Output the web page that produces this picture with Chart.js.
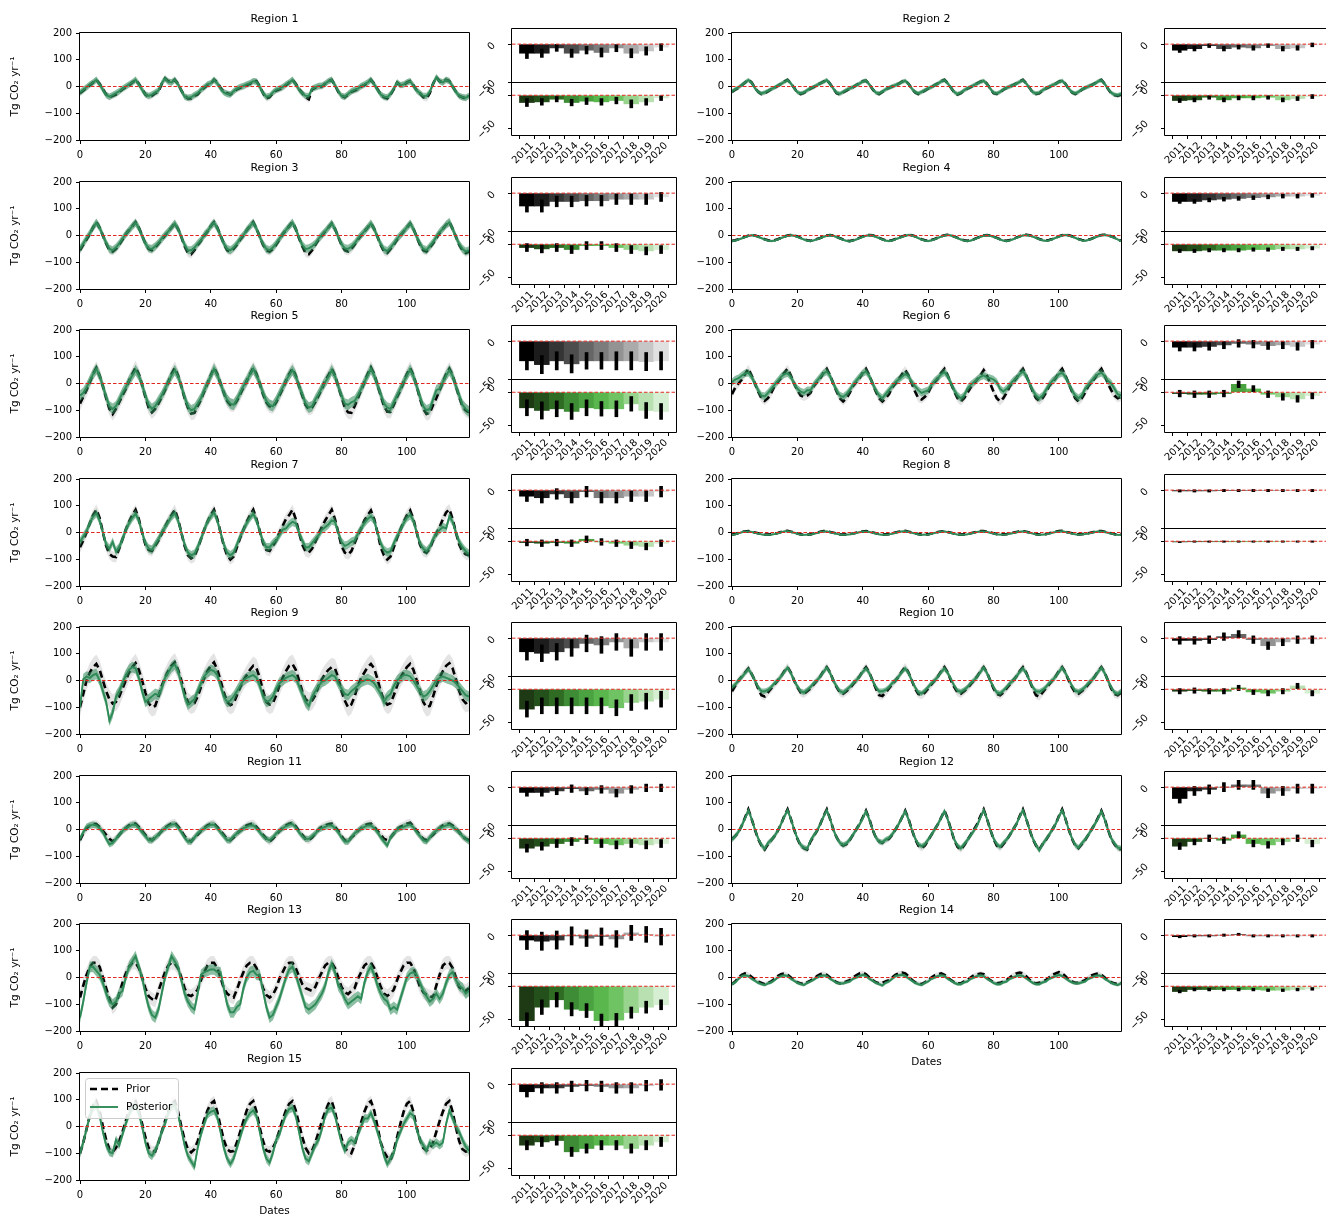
<!DOCTYPE html>
<html><head><meta charset="utf-8">
<script src="https://cdn.jsdelivr.net/npm/chart.js@4.4.1/dist/chart.umd.min.js"></script>
<style>
html,body{margin:0;padding:0;background:#fff;overflow:hidden;width:1326px;height:1219px;position:relative;}
canvas{position:absolute;}
</style></head><body>
<script>
// ---------------- DATA ----------------
const years = [2011,2012,2013,2014,2015,2016,2017,2018,2019,2020];
const xTickVals = [0,20,40,60,80,100];
const yTickVals = [-200,-100,0,100,200];
const regionNames = ['Region 1','Region 2','Region 3','Region 4','Region 5','Region 6','Region 7','Region 8','Region 9','Region 10','Region 11','Region 12','Region 13','Region 14','Region 15'];

const priorR1 = [-25,-15,-5,5,15,25,10,-10,-30,-40,-35,-30, -20,-10,-3,5,15,25,10,-10,-30,-38,-35,-25, -20,10,30,20,15,25,10,-15,-35,-45,-45,-35, -30,-15,-5,5,10,25,15,-5,-20,-25,-30,-20, -10,-5,0,5,10,20,20,0,-25,-45,-40,-25, -15,-10,-5,5,15,25,10,-10,-25,-40,-48,-10, -5,0,0,10,20,25,5,-20,-35,-40,-30,-20, -15,-10,0,5,15,25,10,-10,-30,-40,-45,-30, -10,15,5,5,15,20,5,-15,-25,-40,-45,-25, 10,35,20,15,25,20,0,-20,-35,-40,-45,-35];
const postR1 = [-22,-12,-3,8,15,25,8,-12,-32,-38,-32,-25, -18,-8,0,8,15,25,8,-12,-30,-35,-30,-22, -15,12,30,18,15,25,8,-15,-38,-42,-40,-32, -25,-12,-3,8,12,25,12,-8,-22,-28,-30,-18, -8,-2,2,8,12,20,18,-2,-25,-38,-35,-22, -12,-8,-2,8,15,25,8,-12,-25,-35,-35,-8, -3,2,3,10,20,25,5,-18,-35,-38,-28,-18, -12,-8,2,8,15,25,8,-12,-30,-38,-40,-28, -8,15,5,8,15,20,3,-15,-25,-35,-35,-20, 10,35,20,15,25,20,0,-20,-35,-40,-42,-35];

const priorR2 = [-20,-12,-5,5,15,25,15,-5,-20,-28,-25,-18, -10,-5,2,10,18,25,12,-5,-22,-28,-24,-15, -8,-2,5,12,18,25,10,-8,-25,-30,-22,-15, -8,-3,5,12,20,22,8,-10,-25,-28,-20,-12, -5,0,5,10,18,22,10,-8,-22,-28,-22,-15, -8,-2,5,12,20,25,12,-5,-22,-30,-25,-15, -8,-2,5,12,18,22,10,-8,-25,-28,-22,-12, -5,0,5,12,18,25,12,-5,-22,-28,-25,-15, -8,-2,5,10,18,22,10,-8,-22,-28,-22,-12, -5,0,5,12,20,25,10,-8,-25,-32,-35,-30];
const postR2 = [-18,-10,-3,6,15,24,14,-6,-20,-26,-22,-16, -10,-4,3,10,17,24,12,-6,-21,-26,-22,-14, -7,-1,5,12,17,24,10,-8,-23,-27,-20,-13, -7,-2,5,11,19,22,8,-9,-23,-26,-19,-11, -5,0,5,10,17,21,10,-8,-21,-26,-20,-14, -7,-2,5,11,19,24,12,-5,-21,-28,-23,-14, -7,-1,5,11,17,21,10,-8,-23,-26,-20,-11, -5,0,5,11,17,24,12,-5,-21,-26,-23,-14, -7,-1,5,10,17,21,10,-8,-21,-26,-20,-11, -5,0,5,11,19,24,10,-8,-23,-30,-32,-28];

const priorR3 = [-55,-35,-15,5,30,50,30,0,-30,-55,-60,-50, -35,-15,5,20,35,50,30,0,-30,-50,-55,-45, -30,-15,0,15,30,45,25,-5,-40,-65,-70,-55, -35,-20,0,15,35,50,30,0,-30,-55,-60,-50, -35,-15,0,20,35,50,25,-5,-35,-55,-60,-50, -35,-15,5,20,35,50,25,-10,-40,-65,-70,-55, -35,-15,0,15,30,45,25,-5,-35,-55,-60,-50, -35,-15,0,15,30,45,25,-5,-35,-60,-65,-50, -35,-15,0,15,30,45,25,-5,-35,-55,-60,-45, -30,-10,10,25,40,50,25,-5,-35,-55,-65,-60];
const postR3 = [-50,-30,-10,8,30,48,30,0,-28,-50,-55,-45, -30,-12,5,20,35,48,28,-2,-30,-48,-50,-40, -28,-12,2,15,30,45,25,-5,-35,-55,-55,-45, -30,-18,2,15,35,48,28,-2,-30,-50,-55,-45, -30,-12,2,20,35,48,25,-5,-32,-50,-55,-45, -30,-12,5,20,35,48,25,-8,-35,-50,-48,-40, -30,-12,2,15,30,45,25,-5,-32,-48,-50,-42, -30,-12,2,15,30,45,25,-5,-32,-52,-58,-45, -30,-12,2,15,30,45,25,-5,-30,-50,-55,-40, -25,-5,12,25,40,50,25,-5,-32,-50,-60,-55];

const priorR4 = [-20,-18,-14,-10,-5,-1,2,0,-4,-9,-14,-18, -20,-18,-14,-9,-4,0,2,0,-4,-9,-14,-18, -20,-17,-13,-9,-4,0,2,0,-5,-10,-15,-19, -21,-18,-14,-9,-4,0,2,1,-4,-9,-14,-18, -20,-18,-13,-9,-4,0,3,1,-3,-9,-14,-18, -20,-17,-13,-8,-3,1,3,1,-4,-9,-14,-18, -20,-18,-14,-9,-4,0,2,0,-4,-9,-14,-18, -20,-17,-13,-8,-3,1,3,1,-3,-8,-13,-17, -19,-17,-13,-8,-3,1,3,1,-3,-8,-13,-17, -19,-16,-12,-7,-2,2,3,1,-3,-8,-14,-20];
const postR4 = [-21,-19,-15,-11,-6,-2,1,-1,-5,-10,-15,-19, -21,-19,-15,-10,-5,-1,1,-1,-5,-10,-15,-19, -21,-18,-14,-10,-5,-1,1,-1,-6,-11,-16,-20, -22,-19,-15,-10,-5,-1,1,0,-5,-10,-15,-19, -21,-19,-14,-10,-5,-1,2,0,-4,-10,-15,-19, -21,-18,-14,-9,-4,0,2,0,-5,-10,-15,-19, -21,-19,-15,-10,-5,-1,1,-1,-5,-10,-15,-19, -21,-18,-14,-9,-4,0,2,0,-4,-9,-14,-18, -20,-18,-14,-9,-4,0,2,0,-4,-9,-14,-18, -20,-17,-13,-8,-3,1,2,0,-4,-9,-15,-21];

const priorR5 = [-75,-50,-25,5,35,58,30,-10,-55,-95,-114,-95, -70,-45,-20,10,35,60,35,-5,-50,-90,-108,-95, -75,-50,-25,5,35,58,30,-10,-55,-90,-112,-110, -85,-60,-30,0,30,58,35,0,-35,-65,-80,-82, -65,-40,-15,10,35,58,35,0,-40,-70,-85,-88, -70,-45,-20,10,35,55,30,-10,-45,-80,-95,-90, -70,-45,-20,10,30,55,30,-10,-50,-90,-108,-110, -85,-55,-25,5,35,60,35,-5,-45,-85,-105,-105, -80,-50,-25,5,35,58,30,-10,-55,-95,-114,-110, -80,-55,-25,5,35,55,30,-10,-50,-85,-100,-108];
const postR5 = [-45,-35,-15,10,35,55,30,-10,-50,-85,-95,-85, -60,-35,-15,10,30,50,30,-5,-45,-80,-95,-85, -65,-45,-20,5,30,50,28,-10,-50,-85,-100,-95, -75,-55,-25,0,28,55,32,0,-35,-60,-75,-80, -60,-35,-10,10,35,55,32,0,-35,-65,-80,-85, -65,-40,-15,10,32,50,28,-10,-40,-75,-90,-85, -60,-40,-15,5,25,50,28,-10,-45,-75,-80,-70, -65,-45,-20,5,30,55,30,-5,-40,-75,-90,-95, -70,-45,-20,5,30,52,28,-10,-50,-85,-100,-95, -60,-25,-20,5,30,50,28,-10,-45,-80,-95,-105];

const priorR6 = [-40,-15,0,15,35,55,30,0,-30,-55,-65,-55, -35,-10,5,20,40,55,30,0,-25,-45,-50,-45, -35,-10,5,20,40,55,30,0,-30,-55,-67,-55, -35,-10,5,20,40,55,30,0,-30,-55,-67,-55, -40,-15,0,15,35,50,30,0,-30,-55,-60,-50, -35,-10,5,20,40,55,30,0,-30,-55,-67,-55, -35,-15,0,15,30,50,30,0,-30,-55,-67,-55, -35,-10,5,20,40,55,30,0,-30,-55,-65,-55, -35,-10,5,20,40,55,30,0,-30,-55,-67,-55, -35,-10,5,20,40,55,30,0,-25,-45,-55,-50];
const postR6 = [5,15,20,30,38,40,25,0,-25,-45,-48,-35, -20,-5,10,25,35,38,25,0,-20,-30,-35,-25, -25,-5,10,25,38,45,28,0,-25,-45,-50,-40, -25,-5,10,25,38,45,28,0,-25,-45,-55,-40, -25,-10,5,15,25,35,28,5,-10,-25,-35,-30, -25,-5,10,20,35,42,28,0,-25,-45,-55,-45, -20,-5,5,15,25,30,22,20,15,5,-20,-30, -20,-5,10,20,35,45,28,0,-25,-45,-55,-45, -25,-5,10,20,35,40,25,0,-25,-45,-55,-45, -20,-5,10,25,35,40,28,10,0,-20,-40,-45];

const priorR7 = [-55,-30,0,35,65,85,55,0,-50,-80,-90,-92, -60,-25,10,40,65,85,50,0,-45,-65,-69,-50, -30,-5,20,45,65,85,50,0,-50,-85,-97,-90, -60,-25,10,40,65,85,50,0,-50,-85,-101,-90, -55,-20,10,40,65,85,50,5,-40,-65,-69,-50, -30,0,25,50,65,85,50,0,-45,-70,-75,-60, -35,-5,20,45,65,85,50,0,-50,-75,-82,-70, -40,-10,15,45,65,82,50,0,-55,-85,-101,-90, -55,-20,10,40,65,82,50,0,-45,-70,-75,-60, -30,-5,20,50,75,87,50,0,-45,-70,-82,-85];
const postR7 = [-35,-15,5,35,60,72,45,0,-45,-60,-35,-70, -55,-25,10,35,55,70,45,0,-40,-60,-65,-45, -25,0,20,40,60,72,45,0,-45,-75,-85,-80, -55,-25,10,40,60,75,45,0,-45,-75,-85,-75, -45,-15,10,35,55,70,45,5,-35,-55,-55,-40, -30,-10,10,15,30,40,35,0,-30,-55,-55,-40, -25,-10,10,20,30,45,40,0,-35,-50,-45,-35, -30,-5,15,35,50,60,45,0,-40,-65,-75,-70, -40,-15,10,35,55,65,45,0,-40,-60,-70,-55, -25,-5,10,20,15,60,40,0,-35,-55,-70,-80];

const priorR8 = [-8,-6,-2,2,4,5,3,0,-3,-6,-8,-8, -7,-5,-2,2,5,6,3,0,-4,-7,-9,-8, -7,-4,-1,3,5,5,2,-1,-4,-7,-8,-7, -6,-4,-1,2,4,5,3,0,-3,-6,-8,-7, -6,-4,0,3,5,6,3,0,-3,-6,-8,-7, -7,-4,-1,2,4,5,2,-1,-4,-7,-8,-7, -6,-3,0,3,5,5,3,0,-3,-6,-7,-7, -6,-4,-1,2,4,5,3,0,-3,-6,-8,-7, -6,-3,0,3,5,6,3,0,-3,-6,-7,-6, -5,-3,0,3,5,5,3,0,-3,-6,-8,-8];
const postR8 = [-9,-7,-3,1,3,4,2,-1,-4,-7,-9,-9, -8,-6,-3,1,4,5,2,-1,-5,-8,-9,-8, -8,-5,-2,2,4,4,1,-2,-5,-8,-9,-8, -7,-5,-2,1,3,4,2,-1,-4,-7,-9,-8, -7,-5,-1,2,4,5,2,-1,-4,-7,-9,-8, -8,-5,-2,1,3,4,1,-2,-5,-8,-9,-8, -7,-4,-1,2,4,4,2,-1,-4,-7,-8,-8, -7,-5,-2,1,3,4,2,-1,-4,-7,-9,-8, -7,-4,-1,2,4,5,2,-1,-4,-7,-8,-7, -6,-4,-1,2,4,4,2,-1,-4,-7,-9,-9];

const priorR9 = [-100,-50,0,30,50,62,40,0,-40,-70,-86,-80, -60,-30,0,30,50,65,40,0,-45,-85,-100,-95, -60,-20,10,35,55,68,40,0,-45,-80,-90,-85, -60,-25,10,35,55,68,40,0,-45,-80,-92,-85, -55,-25,0,20,40,55,45,10,-40,-80,-90,-85, -55,-20,10,35,55,62,40,0,-40,-70,-80,-75, -55,-20,5,25,40,50,45,10,-40,-75,-100,-90, -60,-20,10,30,50,62,45,5,-40,-75,-90,-85, -55,-20,10,30,50,62,40,0,-40,-80,-100,-95, -60,-20,10,35,55,65,45,5,-40,-70,-85,-80];
const postR9 = [-100,5,15,10,20,25,0,-40,-80,-150,-120,-60, -40,-10,20,40,50,45,10,-40,-80,-70,-60,-50, -55,-30,10,30,50,60,35,-10,-60,-90,-80,-70, -40,-10,15,30,40,35,20,-20,-60,-80,-75,-60, -40,-20,0,10,15,20,10,-20,-60,-80,-75,-60, -30,-10,0,10,15,20,10,-20,-50,-80,-95,-60, -40,-20,-5,0,10,20,15,-10,-30,-50,-55,-40, -30,-20,-5,0,5,0,-10,-30,-50,-80,-60,-50, -20,0,10,20,20,15,0,-20,-40,-60,-55,-40, -20,0,10,15,10,5,0,-10,-25,-40,-55,-60];

const priorR10 = [-40,-20,0,15,30,45,25,0,-30,-55,-60,-45, -30,-15,0,15,35,50,30,0,-25,-45,-50,-40, -30,-15,0,15,35,50,30,0,-25,-45,-50,-40, -30,-15,0,15,35,50,30,0,-30,-55,-58,-45, -30,-15,0,15,35,50,30,0,-30,-50,-55,-45, -30,-15,0,15,35,50,30,0,-25,-45,-50,-40, -30,-15,0,15,35,50,30,0,-30,-50,-55,-45, -30,-15,0,15,35,50,30,0,-30,-55,-60,-45, -30,-15,0,15,35,50,30,0,-25,-45,-50,-40, -30,-15,0,15,35,50,30,0,-30,-50,-55,-45];
const postR10 = [-25,-15,0,12,28,42,25,0,-25,-40,-40,-35, -25,-10,0,15,32,48,28,0,-22,-40,-45,-35, -25,-10,0,15,32,48,28,0,-22,-40,-45,-35, -25,-10,0,15,32,45,28,0,-25,-40,-40,-35, -25,-10,0,15,32,45,28,0,-25,-45,-48,-38, -25,-10,0,15,32,45,28,5,-20,-38,-42,-35, -25,-10,0,15,32,48,28,0,-25,-45,-48,-38, -25,-10,0,15,32,45,28,0,-25,-40,-42,-35, -25,-10,0,15,32,48,28,5,-20,-38,-42,-35, -25,-10,0,15,32,48,28,0,-25,-45,-50,-40];

const priorR11 = [-40,-15,5,15,20,20,10,-5,-20,-35,-45,-35, -20,-5,5,15,20,22,10,-5,-20,-35,-40,-30, -20,-5,5,15,22,25,12,-5,-25,-40,-45,-30, -20,-5,5,15,20,22,10,-5,-20,-35,-40,-30, -15,-5,5,15,20,22,10,-5,-20,-35,-45,-35, -20,-5,5,15,22,25,12,-5,-20,-35,-40,-30, -15,0,10,15,20,22,10,-5,-25,-40,-45,-30, -20,-5,5,15,20,22,10,-5,-20,-35,-40,-30, -15,0,10,15,22,25,12,-5,-20,-35,-40,-30, -20,-5,5,15,20,22,15,5,-10,-25,-35,-40];
const postR11 = [-35,-10,10,15,18,15,5,-10,-35,-55,-50,-35, -20,-5,5,12,18,18,5,-10,-25,-40,-40,-30, -20,-5,5,12,18,20,8,-10,-30,-45,-45,-30, -15,-5,5,12,18,18,5,-10,-25,-40,-40,-25, -15,-5,5,10,15,15,5,-10,-25,-35,-40,-30, -15,-5,5,12,18,20,8,-10,-25,-35,-35,-25, -15,0,5,10,15,15,5,-10,-30,-45,-45,-30, -15,-5,5,10,15,15,5,-10,-30,-45,-60,-30, -15,0,5,10,15,18,8,-10,-25,-40,-45,-30, -15,-5,5,10,15,18,10,0,-10,-25,-35,-45];

const priorR12 = [-35,-25,-10,15,45,75,40,0,-35,-60,-75,-55, -40,-25,-5,20,50,75,40,0,-35,-60,-70,-75, -45,-25,-5,20,50,75,40,0,-30,-50,-60,-55, -40,-20,0,20,45,70,40,0,-30,-45,-50,-40, -35,-20,0,20,45,70,40,0,-35,-60,-70,-60, -40,-20,0,20,45,70,40,0,-40,-65,-75,-60, -40,-20,0,20,50,75,40,0,-35,-60,-70,-55, -40,-20,0,20,50,75,40,0,-35,-60,-75,-55, -40,-20,0,20,50,75,40,0,-35,-60,-70,-55, -40,-20,0,20,45,70,40,0,-35,-55,-70,-75];
const postR12 = [-38,-25,-8,15,42,72,40,0,-33,-58,-72,-50, -40,-25,-5,20,48,72,40,0,-33,-58,-68,-72, -42,-22,-5,20,48,72,40,0,-30,-50,-58,-52, -38,-20,0,18,42,68,38,0,-30,-45,-48,-38, -32,-18,0,20,45,68,38,0,-33,-55,-62,-55, -38,-20,0,20,45,68,38,0,-38,-60,-70,-55, -40,-22,-5,15,45,72,40,0,-33,-55,-65,-50, -38,-20,0,20,48,72,40,0,-33,-58,-78,-55, -38,-20,0,20,48,72,40,0,-33,-58,-68,-52, -38,-20,0,20,42,68,38,0,-33,-52,-68,-70];

const priorR13 = [-75,-30,10,40,55,55,40,0,-40,-80,-112,-100, -60,-20,15,40,55,55,35,0,-40,-70,-80,-87, -50,-15,20,45,55,52,35,0,-40,-65,-69,-60, -45,-10,20,45,55,55,35,0,-40,-60,-70,-75, -45,-10,20,45,55,55,35,0,-40,-65,-75,-65, -40,-5,20,45,55,55,35,5,-25,-40,-45,-50, -35,-5,20,45,55,55,35,0,-35,-55,-62,-50, -40,-5,20,45,55,55,35,0,-35,-60,-69,-60, -45,-10,20,45,55,55,35,0,-35,-55,-65,-70, -75,-30,10,45,55,55,35,0,-35,-45,-50,-40];
const postR13 = [-150,-90,-20,40,40,25,10,-20,-60,-90,-100,-90, -60,-50,0,40,60,80,40,0,-60,-110,-140,-150, -120,-60,0,40,80,60,40,-10,-60,-90,-110,-120, -60,10,20,25,30,30,20,20,-40,-100,-130,-130, -110,-100,-40,0,20,25,10,10,-50,-110,-150,-140, -110,-80,-40,0,30,40,10,-30,-70,-110,-120,-110, -100,-80,-60,-30,20,50,20,-30,-50,-80,-100,-90, -80,-70,-80,-20,20,40,10,-30,-60,-80,-90,-120, -110,-120,-80,-40,0,15,20,10,-20,-50,-70,-90, -80,-60,-80,-60,-20,10,20,-10,-30,-40,-60,-50];

const priorR14 = [-25,-15,0,10,15,12,2,-8,-15,-20,-25,-20, -15,-5,5,12,15,10,0,-10,-18,-22,-25,-18, -12,-5,5,12,15,10,0,-10,-18,-22,-20,-15, -10,0,8,15,18,12,0,-10,-18,-22,-20,-15, -10,0,10,15,18,15,5,-8,-18,-22,-25,-18, -10,0,8,12,15,10,0,-10,-18,-22,-22,-15, -10,0,8,12,15,12,0,-10,-18,-22,-20,-15, -10,0,10,15,18,15,5,-8,-18,-22,-20,-15, -10,0,10,15,20,15,5,-8,-15,-20,-20,-15, -10,0,8,12,15,10,0,-10,-18,-22,-25,-20];
const postR14 = [-25,-18,-5,5,8,5,-5,-12,-20,-25,-28,-22, -18,-10,0,5,8,5,-5,-12,-20,-25,-28,-20, -15,-8,0,5,8,5,-5,-12,-20,-22,-22,-18, -15,-5,0,5,10,5,-5,-12,-20,-25,-30,-20, -15,-5,5,8,10,5,-3,-12,-20,-25,-28,-20, -15,-5,0,5,8,5,-5,-12,-20,-25,-25,-18, -15,-5,0,5,8,5,-5,-12,-20,-25,-25,-18, -15,-5,0,5,8,5,-3,-12,-20,-25,-25,-18, -15,-5,0,5,10,5,-3,-12,-18,-22,-22,-18, -15,-5,0,5,8,5,-5,-12,-20,-25,-28,-22];

const priorR15 = [-100,-60,-10,40,80,95,60,0,-50,-85,-95,-80, -55,-20,20,60,85,95,60,10,-40,-80,-92,-94, -60,-20,20,55,85,95,55,0,-50,-85,-97,-85, -55,-15,25,60,85,95,55,0,-50,-85,-94,-92, -60,-20,20,60,85,95,55,-5,-55,-90,-94,-80, -55,-15,25,60,85,95,60,10,-40,-80,-100,-90, -60,-20,20,55,85,95,55,0,-45,-80,-94,-100, -70,-25,15,55,85,95,60,0,-60,-95,-115,-125, -90,-40,10,55,85,95,55,-5,-50,-80,-90,-85, -60,-20,20,55,85,95,55,-5,-55,-85,-94,-90];
const postR15 = [-100,-60,-10,40,70,80,40,-20,-70,-95,-100,-50, -70,-30,10,45,70,80,50,0,-60,-100,-110,-90, -60,-20,10,50,75,80,45,-10,-70,-110,-130,-150, -80,-30,10,45,55,60,35,-20,-80,-120,-140,-120, -80,-40,0,30,50,60,40,-20,-80,-120,-135,-100, -50,-30,10,45,65,70,40,-20,-80,-120,-130,-100, -70,-50,-10,40,65,70,40,-10,-60,-90,-60,-50, -60,-30,0,30,30,50,20,-20,-60,-110,-140,-120, -100,-50,-20,10,30,50,40,-10,-50,-70,-90,-60, -70,-60,-70,-60,10,60,30,0,-20,-50,-75,-90];

// uncertainty half-widths of the shaded bands (per region)
const priorSpread = [12,8,15,5,25,15,20,4,35,15,15,12,25,8,20];
const postSpread  = [12,8,15,4,20,14,16,3,20,10,12,10,20,6,16];

// annual bars: prior (grey, upper panel) and posterior (green, lower panel)
const priorBars = [
 [-12,-12,-5,-12,-8,-11,-5,-12,-9,-4],
 [-8,-6,-2,-6,-4,-5,-2,-6,-5,-1],
 [-17,-17,-11,-11,-10,-10,-8,-8,-8,-5],
 [-11,-11,-9,-8,-7,-6,-5,-4,-4,-3],
 [-26,-31,-26,-30,-26,-26,-26,-26,-27,-26],
 [-8,-8,-7,-5,-3,-4,-6,-5,-7,-4],
 [-8,-10,-5,-10,-2,-10,-10,-8,-8,-2],
 [-1,-1,-1,-0.5,-0.5,-0.5,-0.5,-0.5,-0.5,-0.5],
 [-18,-20,-18,-13,-7,-9,-5,-13,-5,-5],
 [-3,-3,-2,2,5,-2,-10,-5,-2,-2],
 [-7,-7,-5,-2,-5,-3,-8,-3,-1,-1],
 [-15,-5,-3,0,3,3,-8,-5,-2,-2],
 [-6.5,-8,-6.5,-1,-4,-2,-5,3,1,-2],
 [-2,-1,-1,0,1,-1,-1,-1,-1,-1],
 [-10,-5,-5,-3,-2,-3,-5,-5,-2,-1]];
const priorBarErr = [
 [7,5.5,4.5,5.5,5,6,5,6,5.5,4.5],
 [3,3,2.5,3,2.5,3,2.5,3,3,2.5],
 [8,8,7,7,7,7,7,7,7,6],
 [2.5,2.5,2.5,2.5,2.5,2.5,2.5,2.5,2.5,2.5],
 [12,12,12,12,11,11,12,12,12,12],
 [5,5,5,5,5,5,5,5,5,5],
 [7,7,7,7,7,7,7,7,7,7],
 [1.5,1.5,1.5,1.5,1.5,1.5,1.5,1.5,1.5,1.5],
 [11,11,11,11,11,11,11,11,11,11],
 [5,5,5,5,5,5,5,5,5,5],
 [5,5,5,5,5,5,5,5,5,5],
 [6,6,6,6,6,6,6,6,6,6],
 [12.5,12,12,12,11,11.5,11,10,10.5,11],
 [1.5,1.5,1.5,1.5,1.5,1.5,1.5,1.5,1.5,1.5],
 [7,7,7,7,7,7,7,7,7,7]];
const postBars = [
 [-11,-10,-6,-11,-9,-10,-8,-13,-10,-4],
 [-8,-7,-3,-7,-4,-4,-3,-7,-5,-2],
 [-5,-7,-5,-8,-2,-2,-5,-8,-10,-8],
 [-10,-10,-9,-9,-9,-8,-8,-7,-7,-6],
 [-23.5,-27.5,-25,-29,-23.5,-25,-25,-17.5,-27.5,-29],
 [-2,-3,-3,-2,12,5,-3,-7,-10,-5],
 [-2,-3,-2,-3,3,-1,-3,-6,-8,-3],
 [-1,-0.5,-0.5,-0.5,-0.5,-0.5,-0.5,-0.5,-0.5,-0.5],
 [-30,-25,-25,-25,-25,-25,-28,-20,-18,-15],
 [-3,-2,-3,-3,2,-4,-6,-3,5,-6],
 [-15,-12,-8,-5,-2,-8,-10,-8,-10,-8],
 [-12,-5,0,-3,5,-8,-10,-5,0,-8],
 [-52,-31.6,-20.4,-34.7,-36.7,-52,-51,-39.8,-31.6,-28],
 [-8,-5,-5,-5,-5,-5,-6,-6,-5,-4],
 [-15,-10,-8,-25,-20,-15,-15,-20,-15,-10]];
const postBarErr = [
 [6,5,4,5,5,5,5,6,5,4],
 [3,3,3,3,3,3,3,3,3,3],
 [6,6,6,6,6,6,6,6,6,6],
 [2.5,2.5,2.5,2.5,2.5,2.5,2.5,2.5,2.5,2.5],
 [12,13,12,12,12,11,12,11,12,12],
 [5,5,5,5,5,5,5,5,5,5],
 [5,5,5,5,5,5,5,5,5,5],
 [1,1,1,1,1,1,1,1,1,1],
 [12,12,12,12,12,12,12,12,12,12],
 [4,4,4,4,4,4,4,4,4,4],
 [6,6,6,6,6,6,6,6,6,6],
 [5,5,5,5,5,5,5,5,5,5],
 [12,11,11,10,10.5,10,10,8.5,9,7.5],
 [2,2,2,2,2,2,2,2,2,2],
 [7,7,7,7,7,7,7,7,7,7]];

const priorSeries = [priorR1,priorR2,priorR3,priorR4,priorR5,priorR6,priorR7,priorR8,priorR9,priorR10,priorR11,priorR12,priorR13,priorR14,priorR15];
const postSeries  = [postR1,postR2,postR3,postR4,postR5,postR6,postR7,postR8,postR9,postR10,postR11,postR12,postR13,postR14,postR15];

// ---------------- STYLE / LAYOUT ----------------
const greyColors  = ['#000000','#1c1c1c','#353535','#4d4d4d','#666666','#7c7c7c','#939393','#ababab','#c6c6c6','#e0e0e0'];
const greenColors = ['#1d3a15','#24501b','#2f6b23','#3e8d36','#4aa340','#59b74d','#6fc363','#99d48e','#b9e0b0','#d6eed1'];
const lineTops = [33,182,330,479,627,776,924,1073];

Chart.defaults.font.family = "'DejaVu Sans', sans-serif";
Chart.defaults.font.size = 10;
Chart.defaults.color = '#000';
Chart.defaults.animation = false;

const minusFmt = v => (v < 0 ? '\u2212' + Math.abs(v) : String(v));

// red dashed zero reference line + axes frame (optionally without the top edge)
const frameZero = {
  id: 'frameZero',
  afterDatasetsDraw(chart, args, opts) {
    const {ctx, chartArea: a, scales} = chart;
    const y0 = scales.y.getPixelForValue(0);
    ctx.save();
    ctx.strokeStyle = '#e0281e'; ctx.lineWidth = 1; ctx.setLineDash([3.5, 2]);
    ctx.beginPath(); ctx.moveTo(a.left, y0); ctx.lineTo(a.right, y0); ctx.stroke();
    ctx.setLineDash([]);
    ctx.strokeStyle = '#000'; ctx.lineWidth = 1;
    const L = Math.round(a.left) - 0.5, T = Math.round(a.top) - 0.5;
    const R = Math.round(a.right) + 0.5, B = Math.round(a.bottom) + 0.5;
    ctx.beginPath();
    if (opts && opts.noTop) {
      ctx.moveTo(L, T); ctx.lineTo(L, B); ctx.lineTo(R, B); ctx.lineTo(R, T);
    } else {
      ctx.rect(L, T, R - L, B - T);
    }
    ctx.stroke();
    ctx.restore();
  }
};

// legend box drawn inside the plot area (upper left), from the datasets' own styles
const legendBox = {
  id: 'legendBox',
  afterDatasetsDraw(chart) {
    const {ctx, chartArea: a} = chart;
    const items = chart.data.datasets.filter(d => d.label === 'Prior' || d.label === 'Posterior');
    ctx.save();
    ctx.font = "10.5px 'DejaVu Sans', sans-serif";
    let tw = 0;
    items.forEach(d => { tw = Math.max(tw, ctx.measureText(d.label).width); });
    const x0 = Math.round(a.left) + 5, y0 = Math.round(a.top) + 5;
    const w = Math.round(41 + tw + 6), h = 40;
    ctx.fillStyle = 'rgba(255,255,255,0.85)';
    ctx.strokeStyle = '#cccccc'; ctx.lineWidth = 1;
    ctx.beginPath();
    if (ctx.roundRect) ctx.roundRect(x0 + 0.5, y0 + 0.5, w, h, 3); else ctx.rect(x0 + 0.5, y0 + 0.5, w, h);
    ctx.fill(); ctx.stroke();
    items.forEach((d, k) => {
      const cy = y0 + 11 + k * 18;
      ctx.beginPath();
      ctx.strokeStyle = d.borderColor; ctx.lineWidth = d.borderWidth;
      ctx.setLineDash(d.borderDash || []);
      ctx.moveTo(x0 + 5, cy); ctx.lineTo(x0 + 33, cy); ctx.stroke();
      ctx.setLineDash([]);
      ctx.fillStyle = '#000'; ctx.textBaseline = 'middle'; ctx.textAlign = 'left';
      ctx.fillText(d.label, x0 + 41, cy);
    });
    ctx.restore();
  }
};

function makeCtx(left, top, w, h) {
  const c = document.createElement('canvas');
  c.width = w; c.height = h;
  c.style.left = left + 'px'; c.style.top = top + 'px';
  c.style.width = w + 'px'; c.style.height = h + 'px';
  document.body.appendChild(c);
  return c.getContext('2d');
}

const months = priorR1.map((_, i) => i);

function lineChart(i) {
  const row = Math.floor(i / 2), col = i % 2;
  const top = lineTops[row];
  const lastRow = (i === 13 || i === 14);
  const xH = lastRow ? 40 : 22;
  const left = col === 0 ? 0 : 680;
  const yW = col === 0 ? 80 : 52;
  const plotR = col === 0 ? 469 : 1121;
  const W = plotR + 6 - left;
  const H = 24 + 107 + xH;
  const ctx = makeCtx(left, top - 24, W, H);
  const p = priorSeries[i], q = postSeries[i], sp = priorSpread[i], sq = postSpread[i];
  const none = 'rgba(0,0,0,0)';
  const plugins = [frameZero];
  if (i === 14) plugins.push(legendBox);
  new Chart(ctx, {
    type: 'line',
    data: {
      labels: months,
      datasets: [
        {label: 'prior_hi', data: p.map(v => v + sp), borderColor: none, borderWidth: 0, fill: false, order: 6},
        {label: 'prior_lo', data: p.map(v => v - sp), borderColor: none, borderWidth: 0, fill: '-1', backgroundColor: 'rgba(195,195,195,0.45)', order: 5},
        {label: 'Prior', data: p, borderColor: '#000', borderWidth: 2.6, borderDash: [7, 4], fill: false, order: 4},
        {label: 'post_hi', data: q.map(v => v + sq), borderColor: none, borderWidth: 0, fill: false, order: 3},
        {label: 'post_lo', data: q.map(v => v - sq), borderColor: none, borderWidth: 0, fill: '-1', backgroundColor: 'rgba(46,139,87,0.55)', order: 2},
        {label: 'Posterior', data: q, borderColor: '#2e8b57', borderWidth: 1.9, fill: false, order: 1}
      ]
    },
    options: {
      responsive: false, devicePixelRatio: 1, animation: false, events: [],
      elements: {point: {radius: 0}, line: {tension: 0}},
      layout: {padding: {top: 24 - 13.2 - 7.5, right: 6, left: 0, bottom: 0}},
      plugins: {
        tooltip: {enabled: false},
        legend: {display: false},
        title: {display: true, text: regionNames[i], fullSize: false, font: {size: 11, weight: 'normal'}, color: '#000', padding: {top: 0, bottom: 7.5}},
        frameZero: {noTop: false}
      },
      scales: {
        x: {
          type: 'linear', min: 0, max: 119,
          afterBuildTicks: s => { s.ticks = xTickVals.map(v => ({value: v})); },
          afterFit: s => { s.height = xH; },
          grid: {drawOnChartArea: false, tickLength: 4, color: '#000'},
          border: {display: false},
          ticks: {padding: 5, minRotation: 0, maxRotation: 0, autoSkip: false, color: '#000', font: {size: 10}, callback: v => String(v)},
          title: lastRow ? {display: true, text: 'Dates', color: '#000', font: {size: 10.5}, padding: {top: 0, bottom: 2}} : {display: false}
        },
        y: {
          type: 'linear', min: -200, max: 200,
          afterBuildTicks: s => { s.ticks = yTickVals.map(v => ({value: v})); },
          afterFit: s => { s.width = yW; },
          grid: {drawOnChartArea: false, tickLength: 4, color: '#000'},
          border: {display: false},
          ticks: {padding: 4, color: '#000', font: {size: 10}, callback: minusFmt},
          title: col === 0 ? {display: true, text: 'Tg CO\u2082 yr\u207B\u00B9', color: '#000', font: {size: 10.5}, padding: {top: 9, bottom: 0}} : {display: false}
        }
      }
    },
    plugins: plugins
  });
}

function barChart(i, part) {
  const row = Math.floor(i / 2), col = i % 2;
  const bTop = lineTops[row] - 4;
  const plotL = col === 0 ? 512 : 1165;
  const plotR = col === 0 ? 676 : 1327;
  const yW = 46;
  const left = plotL - yW;
  const W = plotR + 3 - left;
  const vals = part === 0 ? priorBars[i] : postBars[i];
  const errs = part === 0 ? priorBarErr[i] : postBarErr[i];
  const cols = part === 0 ? greyColors : greenColors;
  const PAD = 24, xH = 40;
  let top, H, pad;
  if (part === 0) { top = bTop - PAD; H = PAD + 53 + PAD; pad = {top: PAD, bottom: PAD, right: 3, left: 0}; }
  else { top = bTop + 53 - PAD; H = PAD + 53 + xH; pad = {top: PAD, bottom: 0, right: 3, left: 0}; }
  const ctx = makeCtx(left, top, W, H);
  new Chart(ctx, {
    type: 'bar',
    data: {
      datasets: [
        {label: 'err', data: years.map((y, k) => ({x: y, y: [vals[k] - errs[k], vals[k] + errs[k]]})),
         backgroundColor: '#000', borderWidth: 0, barThickness: 3, grouped: false, order: 0},
        {label: 'val', data: years.map((y, k) => ({x: y, y: vals[k]})),
         backgroundColor: cols, borderWidth: 0, barPercentage: 1, categoryPercentage: 1, grouped: false, order: 1}
      ]
    },
    options: {
      responsive: false, devicePixelRatio: 1, animation: false, events: [],
      layout: {padding: pad},
      plugins: {tooltip: {enabled: false}, legend: {display: false}, title: {display: false}, frameZero: {noTop: part === 1}},
      scales: {
        x: {
          type: 'linear', min: 2010, max: 2021, offset: false, display: part === 1,
          afterBuildTicks: s => { s.ticks = years.map(v => ({value: v})); },
          afterFit: s => { if (part === 1) s.height = xH; },
          grid: {drawOnChartArea: false, tickLength: 4, color: '#000'},
          border: {display: false},
          ticks: {minRotation: 45, maxRotation: 45, autoSkip: false, padding: 1, labelOffset: 5, color: '#000', font: {size: 10}, callback: v => String(v)}
        },
        y: {
          type: 'linear', min: part === 0 ? -50 : -60, max: 20,
          afterBuildTicks: s => { s.ticks = [{value: -50}, {value: 0}]; },
          afterFit: s => { s.width = yW; },
          grid: {drawOnChartArea: false, tickLength: 4, color: '#000'},
          border: {display: false},
          ticks: {minRotation: 45, maxRotation: 45, padding: 14, labelOffset: part === 0 ? 0 : -6, color: '#000', font: {size: 10}, callback: minusFmt}
        }
      }
    },
    plugins: [frameZero]
  });
}

for (let i = 0; i < 15; i++) {
  lineChart(i);
  barChart(i, 0);
  barChart(i, 1);
}
</script>
</body></html>
